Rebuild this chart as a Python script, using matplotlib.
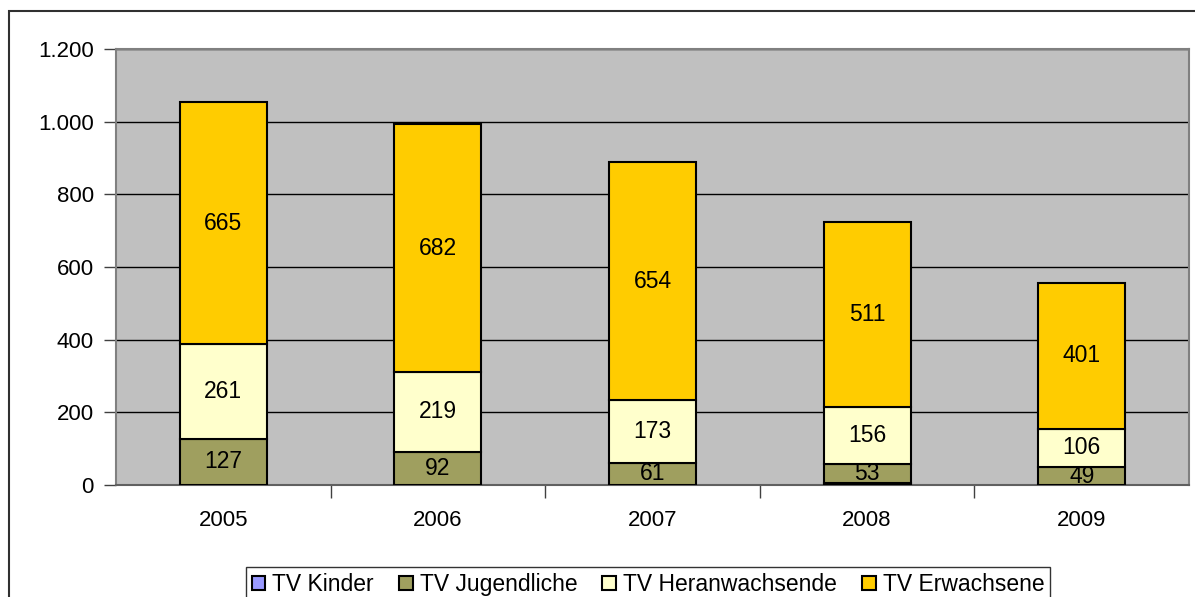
import matplotlib

matplotlib.use("Agg")
import matplotlib.pyplot as plt
from matplotlib.patches import Rectangle

years = ["2005", "2006", "2007", "2008", "2009"]
kinder = [0, 0, 0, 5, 0]
jugendliche = [127, 92, 61, 53, 49]
heranwachsende = [261, 219, 173, 156, 106]
erwachsene = [665, 682, 654, 511, 401]

series = [
    ("TV Kinder", kinder, "#9999ff", False),
    ("TV Jugendliche", jugendliche, "#9f9f5f", True),
    ("TV Heranwachsende", heranwachsende, "#ffffcc", True),
    ("TV Erwachsene", erwachsene, "#ffcc00", True),
]

plt.rcParams["font.family"] = ["Liberation Sans", "DejaVu Sans"]

fig = plt.figure(figsize=(11.95, 5.97), dpi=100)
fig.patch.set_facecolor("white")
ax = fig.add_axes([116 / 1195, 1 - 485 / 597, 1073 / 1195, 436 / 597])
ax.set_facecolor("#c0c0c0")

x = list(range(len(years)))
bottom = [0] * len(years)
handles = []
for name, vals, color, labelled in series:
    bars = ax.bar(x, vals, width=0.405, bottom=bottom, color=color,
                  edgecolor="black", linewidth=1.5, label=name, zorder=3)
    if labelled:
        ax.bar_label(bars, labels=[str(v) for v in vals], label_type="center",
                     fontsize=16.5, color="black")
    handles.append(bars)
    bottom = [b + v for b, v in zip(bottom, vals)]

ax.set_xlim(-0.5, len(years) - 0.5)
ax.set_ylim(0, 1200)
ax.set_yticks(range(0, 1201, 200))
ax.yaxis.set_major_formatter(lambda v, _: f"{int(v):,}".replace(",", "."))
ax.yaxis.grid(True, color="black", linewidth=1.0, zorder=1)
ax.set_axisbelow(True)
ax.tick_params(axis="y", labelsize=16, length=9, width=1, color="#404040", pad=7)

# category labels centred, ticks on category boundaries
ax.set_xticks(x)
ax.set_xticklabels(years, fontsize=16)
ax.tick_params(axis="x", length=0, pad=18)
ax.set_xticks([i + 0.5 for i in x[:-1]], minor=True)
ax.tick_params(axis="x", which="minor", length=9, width=1, color="#404040")

for side in ("top", "right", "left"):
    ax.spines[side].set_color("#808080")
    ax.spines[side].set_linewidth(1.5)
ax.spines["bottom"].set_color("#606060")
ax.spines["bottom"].set_linewidth(1.5)

leg = fig.legend(handles=handles, loc="upper center", ncol=4,
                 bbox_to_anchor=(648 / 1195, 1 - 556 / 597),
                 fontsize=16.5, frameon=True, fancybox=False, edgecolor="black",
                 handlelength=0.6, handleheight=0.6, handletextpad=0.3,
                 columnspacing=1.1, borderpad=0.25)
leg.get_frame().set_linewidth(1.0)

fig.add_artist(Rectangle((9 / 1195, -0.1), 1.2, 1 - 11 / 597 + 0.1, fill=False,
                         edgecolor="#303030", linewidth=1.5,
                         transform=fig.transFigure))

fig.savefig("out.png", dpi=100)
